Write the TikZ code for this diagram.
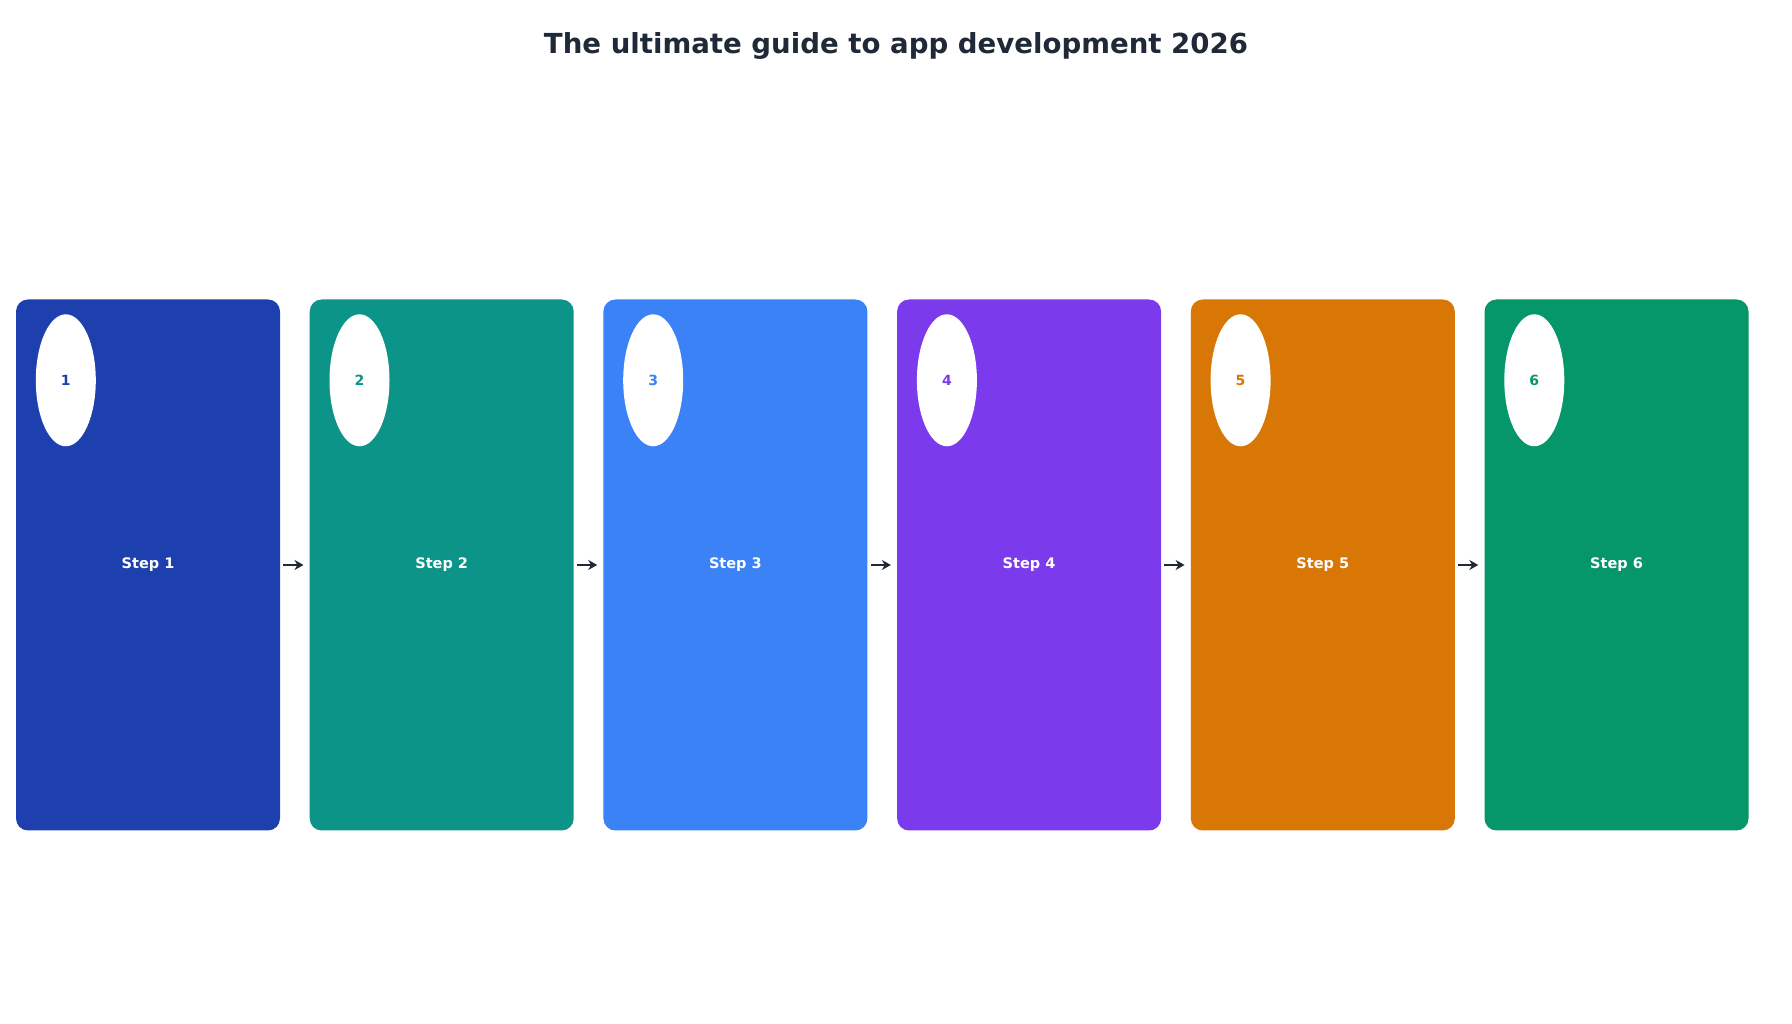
\documentclass[tikz,border=0pt]{standalone}
\usepackage{fontspec}
\setmainfont{DejaVu Sans}
\usetikzlibrary{shapes.geometric,arrows.meta}
\definecolor{ink}{HTML}{1F2937}
\definecolor{cone}{HTML}{1E40AF}
\definecolor{ctwo}{HTML}{0D9488}
\definecolor{cthree}{HTML}{3B82F6}
\definecolor{cfour}{HTML}{7C3AED}
\definecolor{cfive}{HTML}{D97706}
\definecolor{csix}{HTML}{059669}
\begin{document}
\begin{tikzpicture}[x=1pt,y=1pt,
  card/.style={rectangle,rounded corners=12pt,minimum width=264pt,minimum height=531pt,inner sep=0pt,text=white,font=\fontsize{14.5}{17}\selectfont\bfseries},
  badge/.style={ellipse,fill=white,minimum width=60pt,minimum height=132pt,inner sep=0pt,font=\fontsize{14}{17}\selectfont\bfseries},
  arr/.style={ink,line width=2.6pt,-{Stealth[length=9pt,width=10pt]},shorten <=3pt,shorten >=6pt}]
  \useasboundingbox[fill=white] (0,0) rectangle (1792,1024);
  \node[text=ink,font=\fontsize{27.6}{33}\selectfont\bfseries] (title) at (896,978) {The ultimate guide to app development 2026};
  \node[card,fill=cone] (s1) at (148,459) {Step 1};
  \node[card,fill=ctwo] (s2) at (441.7,459) {Step 2};
  \node[card,fill=cthree] (s3) at (735.4,459) {Step 3};
  \node[card,fill=cfour] (s4) at (1029.1,459) {Step 4};
  \node[card,fill=cfive] (s5) at (1322.8,459) {Step 5};
  \node[card,fill=csix] (s6) at (1616.5,459) {Step 6};
  \node[badge,text=cone] (n1) at ([shift={(50,-81)}]s1.north west) {1};
  \node[badge,text=ctwo] (n2) at ([shift={(50,-81)}]s2.north west) {2};
  \node[badge,text=cthree] (n3) at ([shift={(50,-81)}]s3.north west) {3};
  \node[badge,text=cfour] (n4) at ([shift={(50,-81)}]s4.north west) {4};
  \node[badge,text=cfive] (n5) at ([shift={(50,-81)}]s5.north west) {5};
  \node[badge,text=csix] (n6) at ([shift={(50,-81)}]s6.north west) {6};
  \draw[arr] (s1) -- (s2);
  \draw[arr] (s2) -- (s3);
  \draw[arr] (s3) -- (s4);
  \draw[arr] (s4) -- (s5);
  \draw[arr] (s5) -- (s6);
\end{tikzpicture}
\end{document}
